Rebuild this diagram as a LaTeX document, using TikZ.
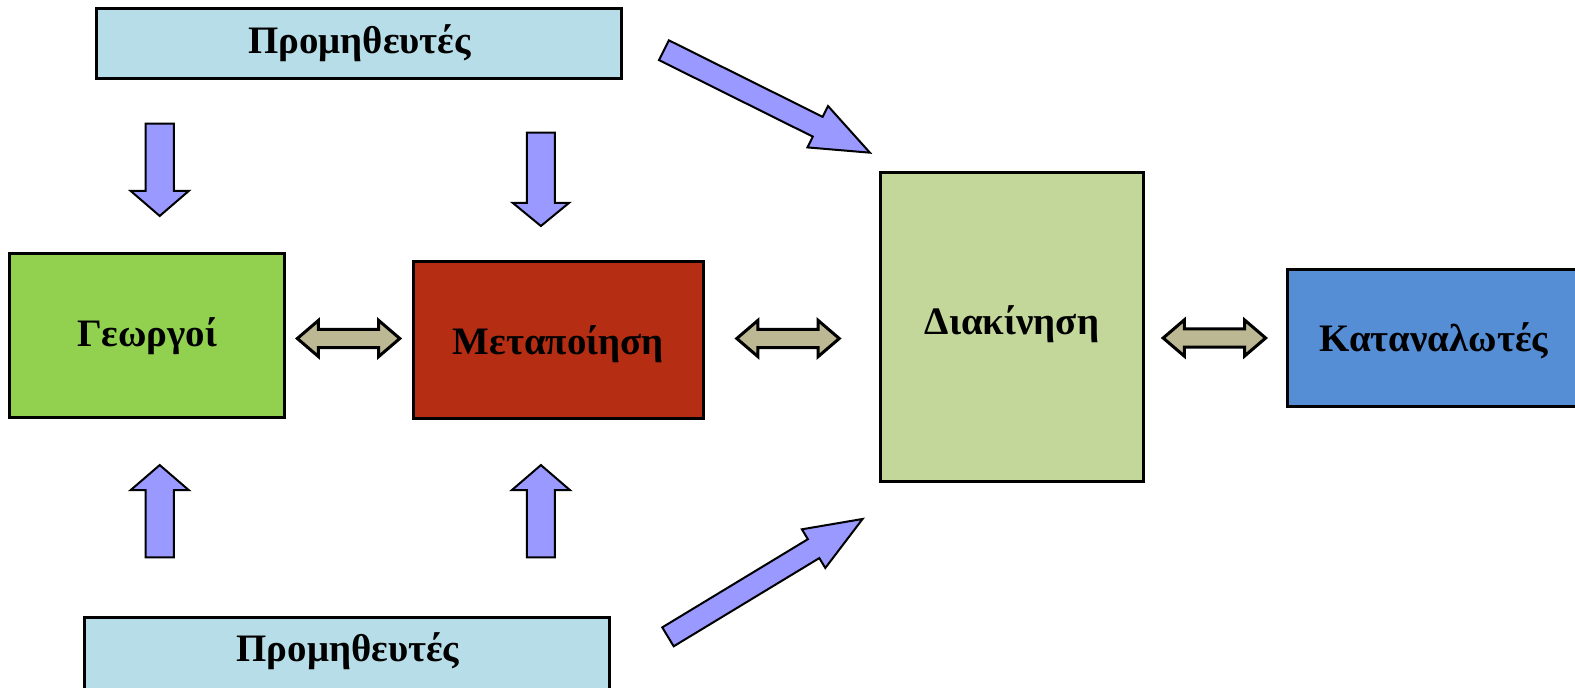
\documentclass[tikz,border=0pt]{standalone}
\usepackage{fontspec}
\setmainfont{Liberation Serif}
\definecolor{supp}{HTML}{B7DEE8}
\definecolor{farm}{HTML}{92D050}
\definecolor{proc}{HTML}{B52D13}
\definecolor{dist}{HTML}{C4D79B}
\definecolor{cons}{HTML}{558ED5}
\definecolor{barfill}{HTML}{9999FF}
\definecolor{dblfill}{HTML}{BDB894}
\tikzset{
  box/.style={draw=black, line width=3pt, inner sep=0pt},
  txt/.style={anchor=base, inner sep=0pt, font=\fontsize{38.7}{42}\selectfont\bfseries},
  barrow/.style={draw=black, line width=2pt, fill=barfill, line join=miter},
  darrow/.style={draw=black, line width=3pt, fill=dblfill, line join=miter},
}
% single block arrow: tail centre x, y, angle, length, shaft half width, head half width, head length
\newcommand\sarrow[7]{\begin{scope}[shift={(#1,#2)},rotate=#3]
\draw[barrow] (0,#5) -- ({#4-#7},#5) -- ({#4-#7},#6) -- (#4,0) -- ({#4-#7},-#6) -- ({#4-#7},-#5) -- (0,-#5) -- cycle;
\end{scope}}
% double block arrow: centre x, y
\newcommand\darrowat[2]{\begin{scope}[shift={(#1,#2)}]
\draw[darrow] (-51,0) -- (-30,-18) -- (-30,-9) -- (30,-9) -- (30,-18) -- (51,0) -- (30,18) -- (30,9) -- (-30,9) -- (-30,18) -- cycle;
\end{scope}}
\begin{document}
\begin{tikzpicture}[x=1pt,y=-1pt]
\useasboundingbox (0,0) rectangle (1568,684);
\node[box, fill=supp, minimum width=523pt, minimum height=70pt] (suptop) at (357.5,43) {};
\node[box, fill=farm, minimum width=274pt, minimum height=164pt] (farmers) at (146,334) {};
\node[box, fill=proc, minimum width=288pt, minimum height=157pt] (processing) at (556,338.5) {};
\node[box, fill=dist, minimum width=261pt, minimum height=307pt] (distribution) at (1007.5,325.5) {};
\node[box, fill=cons, minimum width=291pt, minimum height=137pt] (consumers) at (1427.5,336.5) {};
\node[box, fill=supp, minimum width=523pt, minimum height=75pt] (supbot) at (345.5,652.5) {};
\node[txt] (tsuptop) at (358,53.1) {Προμηθευτές};
\node[txt] (tfarmers) at (146.5,345.1) {Γεωργοί};
\node[txt] (tprocessing) at (556,353.4) {Μεταποίηση};
\node[txt] (tdistribution) at (1007.5,333.5) {Διακίνηση};
\node[txt] (tconsumers) at (1427.5,350.1) {Καταναλωτές};
\node[txt] (tsupbot) at (346.5,658.7) {Προμηθευτές};
% vertical arrows
\sarrow{159}{123}{-90}{92}{14}{29}{25}
\sarrow{538.5}{132}{-90}{93}{14}{28}{23}
\sarrow{159}{555}{90}{92}{14}{29}{25}
\sarrow{538.5}{555}{90}{92}{14}{29}{25}
% diagonal arrows
\sarrow{661}{50}{-26.45}{229}{11}{23}{58}
\sarrow{665}{634}{31.2}{226.5}{11}{22.5}{57}
% double arrows
\darrowat{347}{337}
\darrowat{784.5}{337}
\darrowat{1209}{336.5}
\end{tikzpicture}
\end{document}
